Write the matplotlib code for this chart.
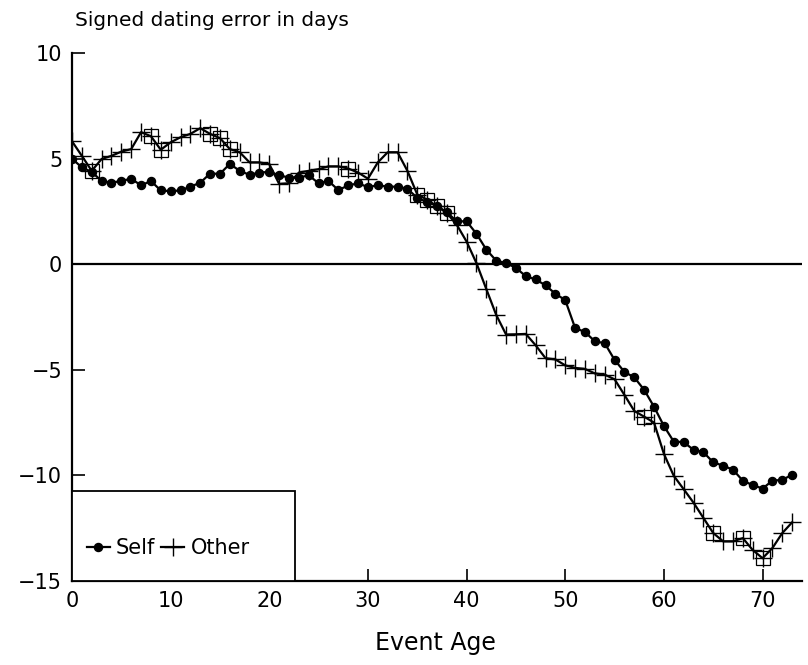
import matplotlib
matplotlib.use("Agg")
import matplotlib.pyplot as plt
from matplotlib.patches import Rectangle

ages = list(range(0, 74))
self_err = [5.00, 4.58, 4.37, 3.94, 3.86, 3.94, 4.05, 3.73, 3.94, 3.49,
            3.46, 3.49, 3.67, 3.86, 4.29, 4.28, 4.75, 4.42, 4.23, 4.34,
            4.37, 4.21, 4.10, 4.10, 4.21, 3.83, 3.94, 3.51, 3.73, 3.83,
            3.65, 3.74, 3.67, 3.67, 3.57, 3.14, 2.95, 2.76, 2.46, 2.03,
            2.03, 1.44, 0.69, 0.17, 0.05, -0.17, -0.57, -0.72, -1.00, -1.40,
            -1.70, -3.02, -3.21, -3.65, -3.74, -4.53, -5.10, -5.36, -5.95, -6.75,
            -7.66, -8.40, -8.42, -8.79, -8.90, -9.38, -9.54, -9.73, -10.25, -10.46,
            -10.62, -10.25, -10.21, -9.97]
other_err = [5.82, 5.13, 4.42, 4.98, 5.13, 5.33, 5.45, 6.25, 6.06, 5.42,
             5.77, 6.01, 6.17, 6.44, 6.17, 5.97, 5.45, 5.30, 4.82, 4.82,
             4.74, 3.80, 3.83, 4.34, 4.42, 4.50, 4.63, 4.63, 4.53, 4.34,
             4.05, 4.82, 5.30, 5.30, 4.42, 3.30, 3.06, 2.74, 2.42, 1.87,
             1.07, 0.05, -1.18, -2.40, -3.33, -3.32, -3.30, -3.84, -4.45, -4.51,
             -4.79, -4.91, -4.96, -5.17, -5.23, -5.45, -6.19, -6.95, -7.22, -7.50,
             -8.98, -10.02, -10.65, -11.29, -12.01, -12.73, -13.12, -13.12, -12.97, -13.53,
             -13.92, -13.44, -12.73, -12.22]
square_ages = [2, 8, 9, 14, 15, 16, 28, 35, 36, 37, 38, 58, 65, 68, 70]

x_ticks = [0, 10, 20, 30, 40, 50, 60, 70]
y_ticks = [10, 5, 0, -5, -10, -15]
y_ticklabels = ["10", "5", "0", "\u22125", "\u221210", "\u221215"]

fig = plt.figure(figsize=(8.08, 6.65), dpi=100)
ax = fig.add_axes([0.0891, 0.1263, 0.9035, 0.7940])

ax.axhline(0, color="black", lw=1.6, zorder=1)

l_self, = ax.plot(ages, self_err, color="black", lw=1.6, marker="o",
                  ms=5.8, mfc="black", mec="black", zorder=3)
l_other, = ax.plot(ages, other_err, color="black", lw=1.6, marker="+",
                   ms=13, mew=1.0, zorder=3)
sq_vals = [other_err[ages.index(a)] for a in square_ages]
ax.plot(square_ages, sq_vals, ls="none", marker="s", ms=10, mfc="none",
        mec="black", mew=0.9, zorder=2)

ax.set_xlim(0, 74)
ax.set_ylim(-15, 10)
ax.set_xticks(x_ticks)
ax.set_yticks(y_ticks)
ax.set_yticklabels(y_ticklabels)
ax.tick_params(direction="in", length=9, width=1.2, labelsize=15, pad=7)
for s in ["top", "right"]:
    ax.spines[s].set_visible(False)
for s in ["left", "bottom"]:
    ax.spines[s].set_linewidth(1.6)

# legend box
ax.add_patch(Rectangle((0, 0), 223 / 730, 90 / 527, transform=ax.transAxes,
                       facecolor="white", edgecolor="black", lw=1.3, zorder=4))
leg = ax.legend([l_self, l_other], ["Self", "Other"], ncol=2, loc="center left",
                bbox_to_anchor=(0.020, 0.062), frameon=False, fontsize=15,
                borderpad=0, handlelength=1.1, handletextpad=0.3,
                columnspacing=0.3, borderaxespad=0)
leg.set_zorder(5)

fig.text(75 / 808, 1 - 20 / 665, "Signed dating error in days", fontsize=14.5,
         ha="left", va="center")
fig.text(435 / 808, 1 - 643 / 665, "Event Age", fontsize=17,
         ha="center", va="center")

fig.savefig("out.png", dpi=100)
